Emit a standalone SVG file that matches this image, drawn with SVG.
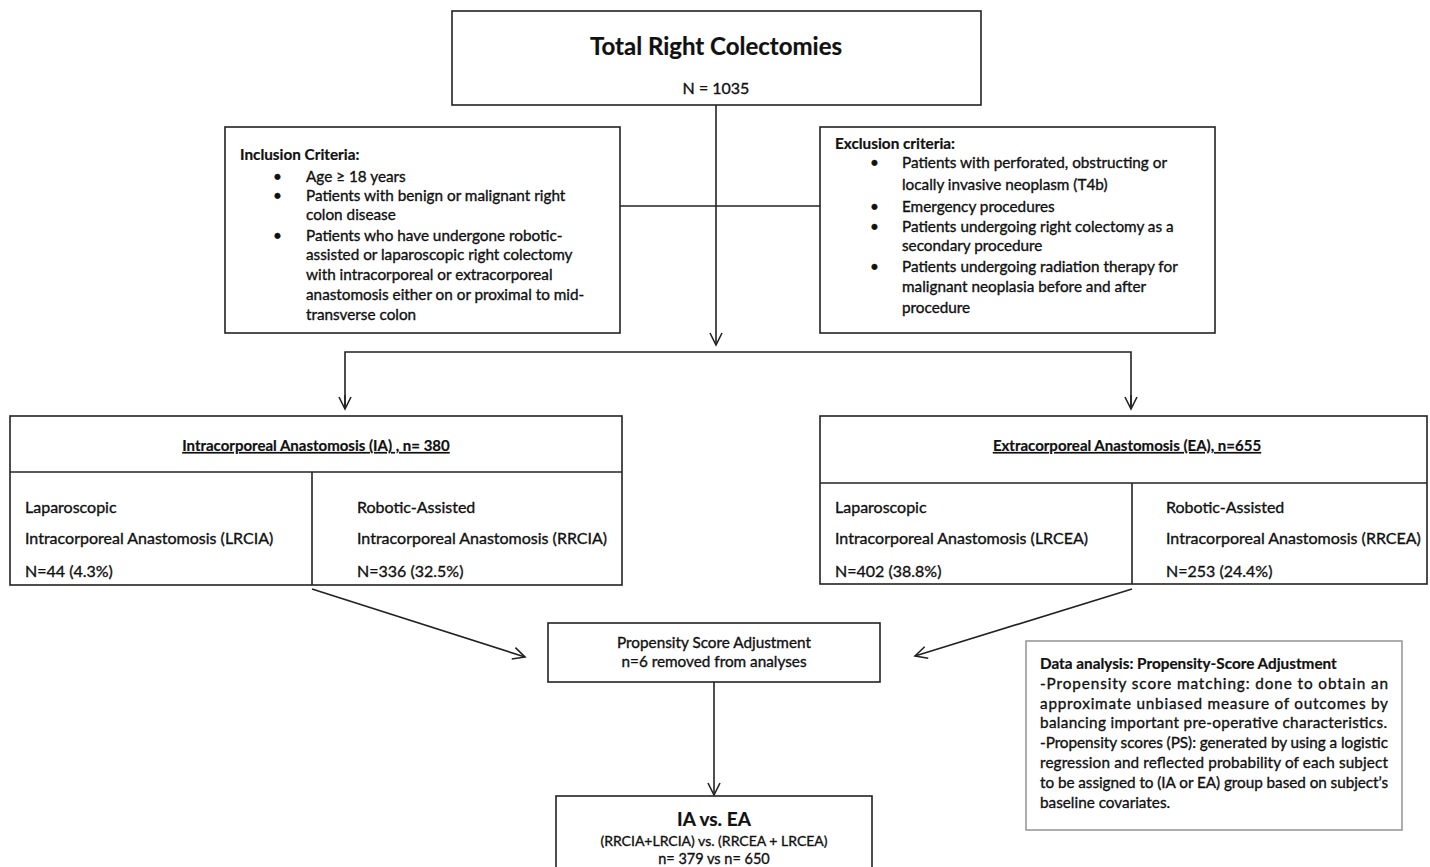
<svg xmlns="http://www.w3.org/2000/svg" width="1430" height="867" viewBox="0 0 1430 867">
<style>
text{font-family:Lato,"Open Sans","Liberation Sans",sans-serif;fill:#111;font-size:15.3px;stroke:#111;stroke-width:0.35px}
.b{font-weight:bold;stroke-width:0.2px}
.c{text-anchor:middle}
.s{font-size:16px}
.box{fill:#fff;stroke:#222;stroke-width:1.6}
.gbox{fill:#fff;stroke:#9a9a9a;stroke-width:1.6}
.ln{stroke:#222;stroke-width:1.6;fill:none}
</style>
<defs>
<marker id="ah" markerWidth="16" markerHeight="16" refX="14" refY="8" orient="auto" markerUnits="userSpaceOnUse">
<path d="M2,2 L14,8 L2,14" fill="none" stroke="#222" stroke-width="1.6"/>
</marker>
</defs>
<rect width="1430" height="867" fill="#fff"/>
<g id="connectors">
<line class="ln" x1="620" y1="206" x2="820" y2="206"/>
<line class="ln" x1="716" y1="105" x2="716" y2="345" marker-end="url(#ah)"/>
<polyline class="ln" points="345,408 345,352 1131,352 1131,408"/>
<line class="ln" x1="345" y1="395" x2="345" y2="409" marker-end="url(#ah)"/>
<line class="ln" x1="1131" y1="395" x2="1131" y2="409" marker-end="url(#ah)"/>
<line class="ln" x1="312" y1="589" x2="525" y2="657" marker-end="url(#ah)"/>
<line class="ln" x1="1132" y1="589" x2="915" y2="656" marker-end="url(#ah)"/>
<line class="ln" x1="714" y1="682" x2="714" y2="795" marker-end="url(#ah)"/>
</g>
<g id="total">
<rect class="box" x="452" y="11" width="529" height="94"/>
<text class="b c" x="716" y="55" style="font-size:24px">Total Right Colectomies</text>
<text class="c" x="716" y="94" style="font-size:16px">N = 1035</text>
</g>
<g id="inclusion">
<rect class="box" x="225" y="127" width="395" height="206"/>
<text class="b" x="240" y="160">Inclusion Criteria:</text>
<text x="273" y="182">•</text><text x="306" y="182">Age ≥ 18 years</text>
<text x="273" y="201">•</text><text x="306" y="201">Patients with benign or malignant right</text>
<text x="306" y="220">colon disease</text>
<text x="273" y="241">•</text><text x="306" y="241">Patients who have undergone robotic-</text>
<text x="306" y="260">assisted or laparoscopic right colectomy</text>
<text x="306" y="280">with intracorporeal or extracorporeal</text>
<text x="306" y="300">anastomosis either on or proximal to mid-</text>
<text x="306" y="320">transverse colon</text>
</g>
<g id="exclusion">
<rect class="box" x="820" y="127" width="395" height="206"/>
<text class="b" x="835" y="149">Exclusion criteria:</text>
<text x="870" y="168">•</text><text x="902" y="168">Patients with  perforated, obstructing or</text>
<text x="902" y="190">locally invasive neoplasm (T4b)</text>
<text x="870" y="212">•</text><text x="902" y="212">Emergency procedures</text>
<text x="870" y="232">•</text><text x="902" y="232">Patients undergoing right colectomy as a</text>
<text x="902" y="251">secondary procedure</text>
<text x="870" y="272">•</text><text x="902" y="272">Patients undergoing radiation therapy for</text>
<text x="902" y="292">malignant  neoplasia before and after</text>
<text x="902" y="313">procedure</text>
</g>
<g id="ia">
<rect class="box" x="10" y="416" width="612" height="169"/>
<line class="ln" x1="10" y1="472" x2="622" y2="472"/>
<line class="ln" x1="312" y1="472" x2="312" y2="585"/>
<text class="b c" x="316" y="451" text-decoration="underline" style="font-size:15px">Intracorporeal Anastomosis (IA) , n= 380</text>
<text class="s" x="25" y="513">Laparoscopic</text>
<text class="s" x="25" y="544">Intracorporeal Anastomosis (LRCIA)</text>
<text class="s" x="25" y="577">N=44 (4.3%)</text>
<text class="s" x="357" y="513">Robotic-Assisted</text>
<text class="s" x="357" y="544">Intracorporeal Anastomosis (RRCIA)</text>
<text class="s" x="357" y="577">N=336 (32.5%)</text>
</g>
<g id="ea">
<rect class="box" x="820" y="416" width="607" height="168"/>
<line class="ln" x1="820" y1="483" x2="1427" y2="483"/>
<line class="ln" x1="1132" y1="483" x2="1132" y2="584"/>
<text class="b c" x="1127" y="451" text-decoration="underline" style="font-size:15px">Extracorporeal Anastomosis (EA), n=655</text>
<text class="s" x="835" y="513">Laparoscopic</text>
<text class="s" x="835" y="544">Intracorporeal Anastomosis (LRCEA)</text>
<text class="s" x="835" y="577">N=402 (38.8%)</text>
<text class="s" x="1166" y="513">Robotic-Assisted</text>
<text class="s" x="1166" y="544">Intracorporeal Anastomosis (RRCEA)</text>
<text class="s" x="1166" y="577">N=253 (24.4%)</text>
</g>
<g id="propensity">
<rect class="box" x="548" y="623" width="332" height="59"/>
<text class="c" x="714" y="648">Propensity Score Adjustment</text>
<text class="c" x="714" y="667">n=6 removed from analyses</text>
</g>
<g id="result">
<rect class="box" x="556" y="796" width="316" height="80"/>
<text class="b c" x="714" y="826" style="font-size:19px">IA vs. EA</text>
<text class="c" x="714" y="846" style="font-size:14px">(RRCIA+LRCIA) vs. (RRCEA + LRCEA)</text>
<text class="c" x="714" y="864" style="font-size:14.5px">n= 379 vs n= 650</text>
</g>
<g id="data-analysis">
<rect class="gbox" x="1026" y="641" width="376" height="189"/>
<text class="b" x="1040" y="669" style="font-size:15.3px">Data analysis: Propensity-Score Adjustment</text>
<text x="1040" y="689" textLength="348" lengthAdjust="spacing">-Propensity score matching: done to obtain an</text>
<text x="1040" y="709" textLength="348" lengthAdjust="spacing">approximate unbiased measure of outcomes by</text>
<text x="1040" y="728" textLength="347" lengthAdjust="spacing">balancing important pre-operative characteristics.</text>
<text x="1040" y="748" textLength="348" lengthAdjust="spacing">-Propensity scores (PS): generated by using a logistic</text>
<text x="1040" y="768" textLength="348" lengthAdjust="spacing">regression and reflected probability of each subject</text>
<text x="1040" y="788" textLength="348" lengthAdjust="spacing">to be assigned to (IA or EA) group based on subject’s</text>
<text x="1040" y="808">baseline covariates.</text>
</g>
</svg>
